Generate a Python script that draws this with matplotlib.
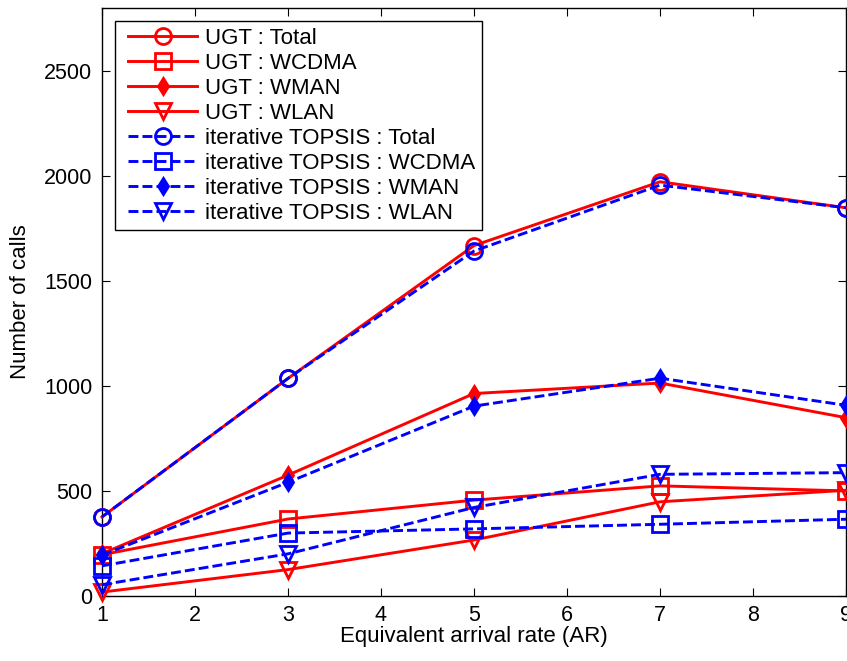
import numpy as np
import matplotlib.pyplot as plt
from matplotlib.legend_handler import HandlerLine2D

plt.rcParams['font.family'] = ['Liberation Sans', 'DejaVu Sans']

ar = [1, 3, 5, 7, 9]

# UGT scheme
ugt_total = [375, 1035, 1668, 1972, 1848]
ugt_wcdma = [195, 365, 455, 523, 499]
ugt_wman = [200, 574, 963, 1013, 848]
ugt_wlan = [17, 124, 265, 447, 502]

# iterative TOPSIS scheme
top_total = [375, 1035, 1642, 1956, 1848]
top_wcdma = [142, 298, 318, 340, 364]
top_wman = [193, 540, 903, 1036, 907]
top_wlan = [52, 199, 420, 578, 586]

labels = ['UGT : Total', 'UGT : WCDMA', 'UGT : WMAN', 'UGT : WLAN',
          'iterative TOPSIS : Total', 'iterative TOPSIS : WCDMA',
          'iterative TOPSIS : WMAN', 'iterative TOPSIS : WLAN']

fig = plt.figure(figsize=(8.47, 6.61), dpi=100)
ax = fig.add_axes([0.1204, 0.0989, 0.8784, 0.8890])

lw = 2.1
mew = 2.0
ms = 11.5

styles = [('o', ms, 'none'), ('s', ms, 'none'), ('d', 8, None), ('v', 12, 'none')]

red = [ugt_total, ugt_wcdma, ugt_wman, ugt_wlan]
blue = [top_total, top_wcdma, top_wman, top_wlan]

for ys, (mk, size, fc), lab in zip(red, styles, labels[:4]):
    kw = dict(markerfacecolor=fc) if fc else {}
    ax.plot(ar, ys, color='red', lw=lw, marker=mk, ms=size, mew=mew,
            clip_on=False, label=lab, zorder=3, **kw)

for ys, (mk, size, fc), lab in zip(blue, styles, labels[4:]):
    kw = dict(markerfacecolor=fc) if fc else {}
    ln, = ax.plot(ar, ys, color='blue', lw=lw, ls='--', marker=mk, ms=size,
                  mew=mew, clip_on=False, label=lab, zorder=4, **kw)
    ln.set_dashes((3.4, 1.4))

ax.set_xlim(1, 9)
ax.set_ylim(0, 2800)
ax.set_xticks(range(1, 10))
ax.set_yticks(range(0, 2501, 500))
ax.tick_params(direction='in', length=6, width=0.8, labelsize=15.5,
               top=True, right=True, pad=7)
for sp in ax.spines.values():
    sp.set_linewidth(1.0)

ax.set_xlabel('Equivalent arrival rate (AR)', fontsize=16, labelpad=0)
ax.set_ylabel('Number of calls', fontsize=16, labelpad=9)

# shift the sample lines right inside the legend box
hl = HandlerLine2D(xpad=0.3)
leg = ax.legend(loc='upper left', fontsize=16, numpoints=1, handlelength=3.37,
                handletextpad=0.36, labelspacing=0.18, borderaxespad=0.59,
                borderpad=0.3, fancybox=False, framealpha=1, edgecolor='black',
                handler_map={ln.__class__: hl})
leg.get_frame().set_linewidth(1.0)

fig.savefig('out.png', dpi=100)
